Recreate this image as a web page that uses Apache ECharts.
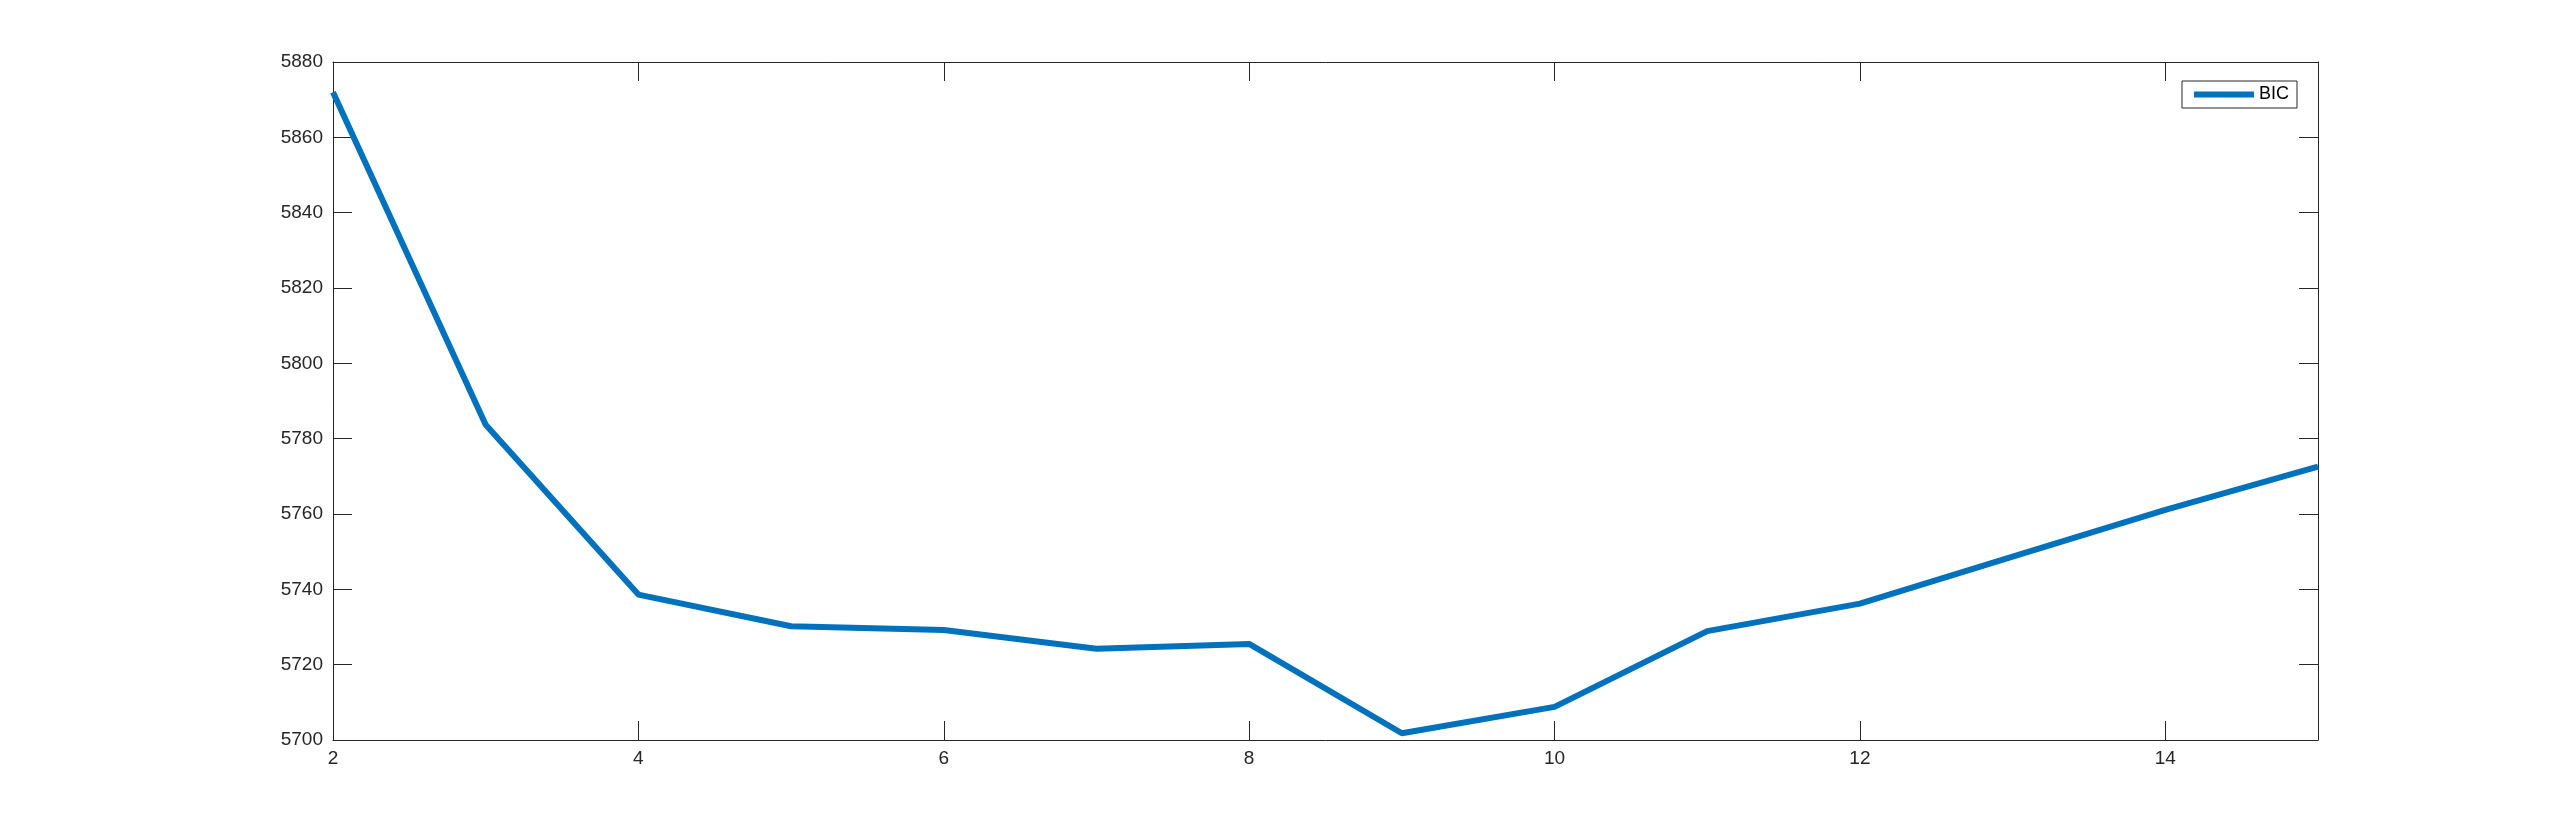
<!DOCTYPE html>
<html>
<head>
<meta charset="utf-8">
<script src="https://cdn.jsdelivr.net/npm/echarts@6/dist/echarts.min.js"></script>
<style>
html,body{margin:0;padding:0;background:#fff;}
#chart{width:2560px;height:832px;}
</style>
</head>
<body>
<div id="chart"></div>
<script>
const kValues = [2, 3, 4, 5, 6, 7, 8, 9, 10, 11, 12, 13, 14, 15];
const bicValues = [5872.0, 5783.7, 5738.6, 5730.2, 5729.2, 5724.2, 5725.5, 5701.8, 5708.8, 5728.9, 5736.2, 5748.7, 5761.1, 5772.6];
const seriesName = 'BIC';

const axisColor = '#262626';
const font = 'Liberation Sans, Arial, Helvetica, sans-serif';

const chart = echarts.init(document.getElementById('chart'), null, {renderer: 'canvas'});
const common = {
  axisLine: {show: true, onZero: false, lineStyle: {color: axisColor, width: 1}},
  axisTick: {show: true, inside: true, length: 19, lineStyle: {color: axisColor, width: 1}},
  splitLine: {show: false}
};
chart.setOption({
  animation: false,
  backgroundColor: '#ffffff',
  grid: {left: 333, right: 242, top: 62, bottom: 92, containLabel: false},
  legend: {
    data: [{name: seriesName, icon: 'rect'}],
    right: 263, top: 81,
    orient: 'vertical',
    itemWidth: 60, itemHeight: 6, itemGap: 6,
    padding: [4, 8, 4, 12],
    borderColor: axisColor, borderWidth: 1,
    backgroundColor: '#fff',
    textStyle: {fontFamily: font, fontSize: 18, color: '#000', lineHeight: 19}
  },
  xAxis: [
    Object.assign({}, common, {
      type: 'value', position: 'bottom', min: 2, max: 15, interval: 2,
      axisLabel: {show: true, showMaxLabel: false, margin: 9, fontFamily: font, fontSize: 19, color: axisColor,
        formatter: v => String(v)}
    }),
    Object.assign({}, common, {
      type: 'value', position: 'top', min: 2, max: 15, interval: 2,
      axisLabel: {show: false}
    })
  ],
  yAxis: [
    Object.assign({}, common, {
      type: 'value', position: 'left', min: 5700, max: 5880, interval: 20,
      axisLabel: {show: true, margin: 10, fontFamily: font, fontSize: 19, color: axisColor,
        formatter: v => String(v)}
    }),
    Object.assign({}, common, {
      type: 'value', position: 'right', min: 5700, max: 5880, interval: 20,
      axisLabel: {show: false}
    })
  ],
  series: [{
    name: seriesName,
    type: 'line',
    xAxisIndex: 0, yAxisIndex: 0,
    data: kValues.map((k, i) => [k, bicValues[i]]),
    showSymbol: false,
    symbol: 'none',
    lineStyle: {color: '#0072BD', width: 6},
    itemStyle: {color: '#0072BD'}
  }]
});
</script>
</body>
</html>
